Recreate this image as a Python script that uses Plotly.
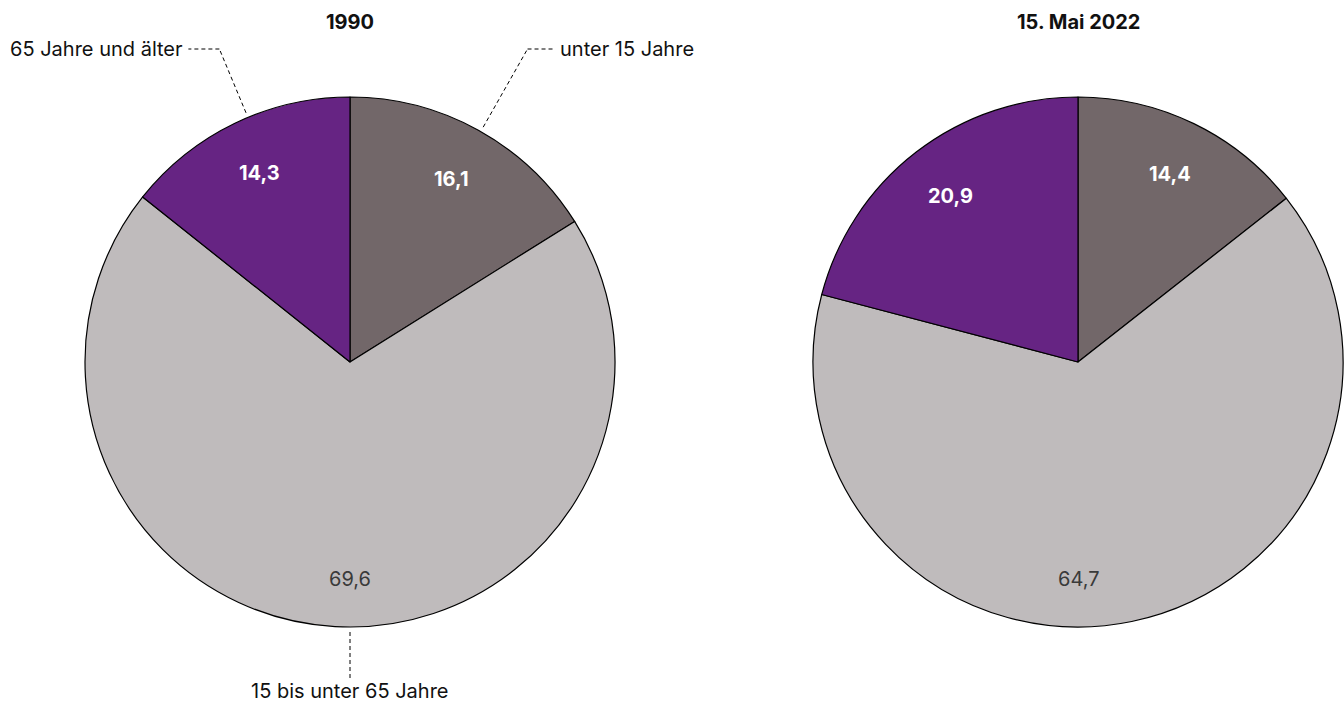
import math
import plotly.graph_objects as go

W, H = 1344, 706

categories = ["unter 15 Jahre", "15 bis unter 65 Jahre", "65 Jahre und älter"]
values_1990 = [16.1, 69.6, 14.3]
values_2022 = [14.4, 64.7, 20.9]
titles = ["1990", "15. Mai 2022"]
colors = ["#726769", "#bfbbbc", "#662483"]
value_font_colors = ["#ffffff", "#3a3a3a", "#ffffff"]
value_bold = [True, False, True]

FONT = "Inter, 'Noto Sans', sans-serif"
FS = 20

# pie geometry in pixels (center x, center y, radius)
pies = [(350, 362, 265), (1078, 362, 265)]
# where along each slice (fraction of its arc) the leader line is attached
leader_frac = [0.51, 0.5, 0.56]


def px2paper(x, y):
    return x / W, 1 - y / H


def fmt(v):
    return f"{v:.1f}".replace(".", ",")


def slice_angles(vals, fracs):
    total = sum(vals)
    cum = 0
    out = []
    for v, fr in zip(vals, fracs):
        out.append(2 * math.pi * (cum + v * fr) / total)
        cum += v
    return out


fig = go.Figure()
annotations = []
shapes = []

for (cx, cy, r), vals, title in zip(pies, [values_1990, values_2022], titles):
    x0, _ = px2paper(cx - r, 0)
    x1, _ = px2paper(cx + r, 0)
    _, y0 = px2paper(0, cy + r)
    _, y1 = px2paper(0, cy - r)
    fig.add_trace(go.Pie(
        labels=categories, values=vals, sort=False, direction="clockwise",
        rotation=0, marker=dict(colors=colors, line=dict(color="#000000", width=1.2)),
        textinfo="none", hoverinfo="skip", showlegend=False,
        domain=dict(x=[x0, x1], y=[y0, y1]),
    ))
    tx, ty = px2paper(cx, 22)
    annotations.append(dict(x=tx, y=ty, xref="paper", yref="paper", text=f"<b>{title}</b>",
                            showarrow=False, font=dict(family=FONT, size=FS, color="#111111"),
                            xanchor="center", yanchor="middle"))
    for i, (v, th) in enumerate(zip(vals, slice_angles(vals, [0.5] * len(vals)))):
        if i == 1:
            th = math.pi  # large middle slice labelled at the bottom
        rr = 0.79 * r if i != 1 else 0.82 * r
        lx = cx + rr * math.sin(th)
        ly = cy - rr * math.cos(th)
        px, py = px2paper(lx, ly)
        t = fmt(v)
        if value_bold[i]:
            t = f"<b>{t}</b>"
        annotations.append(dict(x=px, y=py, xref="paper", yref="paper", text=t, showarrow=False,
                                font=dict(family=FONT, size=FS, color=value_font_colors[i]),
                                xanchor="center", yanchor="middle"))

# leader lines and category labels for the first pie
cx, cy, r = pies[0]
angles = slice_angles(values_1990, leader_frac)

line_style = dict(color="#000000", width=1, dash="4px,3px")
elbow_y = 49

for i, th in enumerate(angles):
    if i == 1:
        sx, sy = cx, cy + r + 5
        ey = cy + r + 52
        a, b = px2paper(sx, sy)
        c, d = px2paper(sx, ey)
        shapes.append(dict(type="line", xref="paper", yref="paper", x0=a, y0=b, x1=c, y1=d, line=line_style))
        lx, ly = px2paper(sx, ey + 12)
        annotations.append(dict(x=lx, y=ly, xref="paper", yref="paper", text=categories[i], showarrow=False,
                                font=dict(family=FONT, size=FS, color="#111111"),
                                xanchor="center", yanchor="middle"))
        continue
    sx, sy = cx + (r + 5) * math.sin(th), cy - (r + 5) * math.cos(th)
    k = (cy - elbow_y) / math.cos(th)
    ex, ey = cx + k * math.sin(th), elbow_y
    sign = 1 if math.sin(th) > 0 else -1
    hx = ex + sign * (27 if sign > 0 else 31)
    a, b = px2paper(sx, sy)
    c, d = px2paper(ex, ey)
    e, f = px2paper(hx, ey)
    shapes.append(dict(type="line", xref="paper", yref="paper", x0=a, y0=b, x1=c, y1=d, line=line_style))
    shapes.append(dict(type="line", xref="paper", yref="paper", x0=c, y0=d, x1=e, y1=f, line=line_style))
    lx, ly = px2paper(hx + sign * 3, ey)
    annotations.append(dict(x=lx, y=ly, xref="paper", yref="paper", text=categories[i], showarrow=False,
                            font=dict(family=FONT, size=FS, color="#111111"),
                            xanchor="left" if sign > 0 else "right", yanchor="middle"))

fig.update_layout(
    width=W, height=H, margin=dict(l=0, r=0, t=0, b=0),
    paper_bgcolor="#ffffff", plot_bgcolor="#ffffff",
    annotations=annotations, shapes=shapes,
    font=dict(family=FONT),
)

fig.write_html("out.html", config={"displayModeBar": False},
               post_script="document.body.style.margin='0';document.body.style.overflow='hidden';")
